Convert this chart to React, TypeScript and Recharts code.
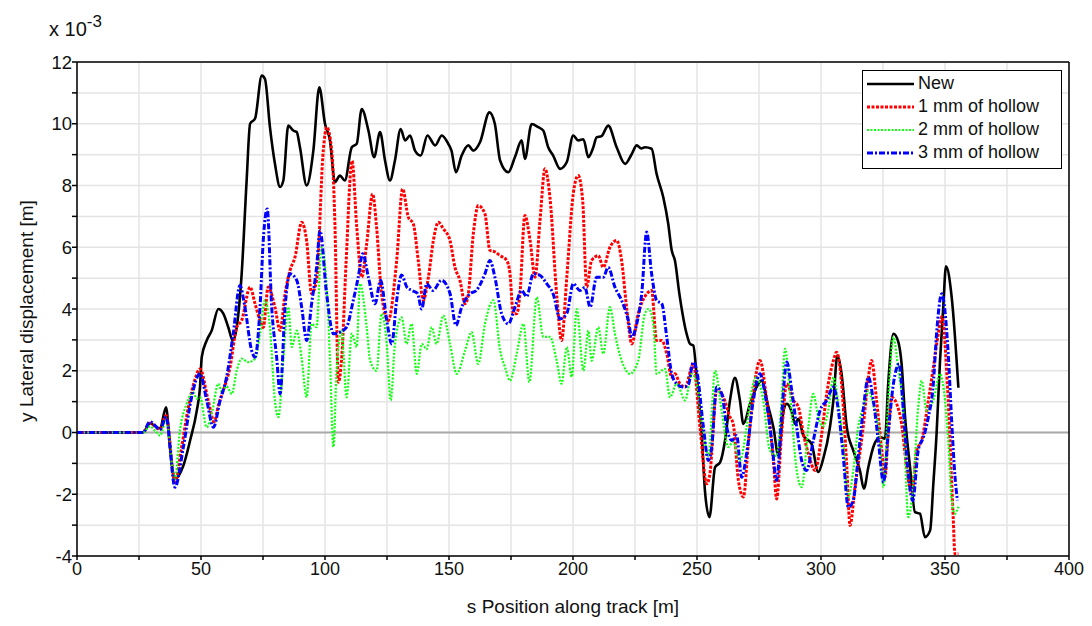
import {
  LineChart,
  Line,
  XAxis,
  YAxis,
  CartesianGrid,
  ReferenceLine,
  Legend,
} from 'recharts';

// [s position (m), lateral displacement (x 10^-3 m)]
const newPts: [number, number][] = [
  [0, 0], [26.6, 0], [29.4, 0.29], [33.5, 0.13], [35.9, 0.82], [37.5, -0.5], [39.5, -1.5],
  [42.9, -1.07], [45.6, -0.26], [48.3, 0.71], [49.6, 1.47], [50.3, 2.44], [52.3, 2.98],
  [54.3, 3.3], [57, 4.0], [59, 3.85], [61, 3.41], [62.8, 2.98], [64.4, 3.41], [66.4, 5.14],
  [68.4, 8.16], [69.8, 10.0], [71.8, 10.17], [74.5, 11.56], [75.8, 11.45], [77.8, 9.89],
  [79.8, 8.71], [81.9, 7.95], [83.2, 8.16], [85.2, 9.94], [87.2, 9.78], [88.6, 9.73],
  [89.9, 9.24], [92.6, 8.0], [95.3, 9.13], [97.7, 11.18], [100, 10.0], [102, 9.46],
  [104, 8.11], [106, 8.32], [108, 8.16], [110.8, 9.24], [112.8, 9.35], [114.8, 10.48],
  [117.5, 9.78], [119.8, 8.92], [122.2, 9.73], [124.2, 8.81], [126.2, 8.16], [128.2, 8.81],
  [130.5, 9.83], [132.3, 9.46], [134.3, 9.62], [136.3, 9.13], [138.6, 8.97], [141.3, 9.62],
  [144.4, 9.3], [147.1, 9.62], [149.7, 9.35], [151, 9.13], [152.8, 8.43], [155.1, 8.97],
  [157.8, 9.3], [159.8, 9.13], [162.5, 9.4], [166.3, 10.37], [168.5, 9.99], [170.6, 8.81],
  [173.9, 8.43], [176.6, 8.92], [179.3, 9.46], [180.6, 8.86], [183.3, 9.99], [186, 9.89],
  [188, 9.78], [190, 9.24], [192, 8.97], [194.8, 8.54], [197.5, 8.76], [200.1, 9.62],
  [202.1, 9.46], [204.2, 9.5], [206.2, 8.92], [208.2, 9.24], [209.5, 9.56], [211.5, 9.6],
  [214.2, 9.94], [217.6, 9.24], [221, 8.7], [223.7, 9.02], [225.7, 9.3], [227.5, 9.2],
  [229, 9.24], [231.7, 9.19], [233.7, 8.38], [236.4, 7.62], [238.4, 6.76], [239.8, 5.9],
  [241.1, 5.57], [242.9, 4.49], [245.8, 3.2], [247.2, 2.87], [248.5, 2.82], [249.9, 1.79],
  [251.9, -0.04], [253.2, -1.88], [255, -2.74], [257.3, -1.12], [259.3, -0.97], [261.3, -0.26],
  [263.3, 1.04], [265.3, 1.77], [267.3, 1.04], [268.7, 0.28], [271.4, 0.93], [274, 1.47],
  [276, 1.68], [278.8, 0.82], [280.8, 0.17], [282.8, -0.74], [284.8, 0.66], [286.2, 0.93],
  [288.2, 0.66], [289.5, 0.28], [290.9, 0.44], [292.9, -0.1], [296.2, -0.37], [298.9, -1.28],
  [300.9, -0.85], [303.6, 0.17], [305, 1.04], [306.6, 2.49], [308.3, 1.9], [310.4, 0.17],
  [313, -0.58], [315.7, -1.23], [317.3, -1.82], [319.1, -1.12], [321.1, -0.47], [323.8, -0.15],
  [325.8, -0.2], [327.1, 1.58], [329.2, 3.2], [331.2, 2.93], [332.5, 2.22], [333.9, 0.5],
  [335.9, -1.12], [337.9, -2.58], [339.9, -2.63], [341.9, -3.39], [344, -3.17], [345.3, -1.66],
  [346.6, -0.04], [348, 2.33], [349.3, 4.06], [350.4, 5.38], [352.7, 4.38], [355.4, 1.45],
];

const hollow1Pts: [number, number][] = [
  [0, 0], [26.6, 0], [29.4, 0.3], [33.5, 0.1], [35.9, 0.55], [39.5, -1.6], [42.2, -0.47],
  [44.9, 0.82], [47.5, 1.7], [49.6, 2.06], [52.9, 1.04], [55.3, 0.35], [57, 0.87], [59, 1.36],
  [61.7, 2.11], [64.4, 3.41], [66.4, 3.63], [69.8, 4.71], [71.8, 4.17], [73.8, 3.63],
  [75.1, 3.4], [77.1, 4.71], [79.8, 4.06], [81.9, 3.3], [83.9, 4.5], [85.9, 5.25], [87.9, 5.68],
  [90.6, 6.81], [92.6, 6.2], [94.6, 4.5], [96.6, 4.93], [99.3, 9.13], [100.7, 9.89],
  [102.7, 9.13], [104, 6.76], [105.4, 1.63], [106.8, 2.5], [108.5, 5.5], [110.9, 8.8],
  [112.8, 6.65], [114.8, 5.03], [116.8, 6.11], [119.2, 7.73], [120.8, 6.65], [122.8, 4.49],
  [125.5, 3.63], [128.9, 5.57], [131.3, 7.89], [133.6, 6.97], [135.6, 6.76], [137.6, 5.57],
  [139.6, 4.28], [141.7, 5.03], [143.7, 6.22], [145.7, 6.81], [147.7, 6.6], [150.4, 6.22],
  [152.4, 5.35], [154.4, 4.93], [156.5, 4.17], [157.8, 4.49], [159.8, 6.43], [161.8, 7.35],
  [164.5, 7.08], [166.5, 5.9], [168.5, 5.85], [170.6, 5.73], [173.3, 5.57], [174.6, 5.14],
  [175.9, 3.85], [177.3, 3.85], [178.6, 4.49], [180.6, 7.03], [182.7, 6.22], [184.7, 5.03],
  [186.7, 6.87], [188.7, 8.54], [190.7, 7.62], [193.4, 4.49], [195.4, 2.98], [197.5, 5.03],
  [200.1, 7.73], [202.1, 8.32], [203.9, 7.51], [205.5, 4.71], [207.5, 5.57], [210.2, 5.73],
  [212.2, 5.35], [214.9, 6.0], [217.6, 6.22], [219.6, 5.57], [221.6, 4.06], [223.7, 2.87],
  [226.3, 3.85], [229.7, 4.49], [231.7, 4.6], [233.7, 2.98], [235.8, 2.98], [237.8, 2.55],
  [239.8, 1.79], [241.1, 1.9], [243.1, 1.58], [245.2, 1.47], [248.5, 2.22], [251.2, 0.17],
  [253.9, -1.66], [255.2, -1.34], [257.9, 1.36], [260.6, 1.15], [263.3, 0.5], [264.6, 0.28],
  [266.7, -1.55], [268.7, -2.09], [270.7, -0.37], [272.7, 1.25], [275.4, 2.33], [278.1, 1.04],
  [280.8, -0.91], [282.1, -2.15], [284.1, -0.04], [286.2, 1.58], [288.9, 1.04], [290.9, 0.82],
  [292.9, -0.04], [294.9, -0.69], [297.6, -1.23], [300.3, -0.04], [302.3, 1.25], [305, 2.33],
  [306.3, 2.6], [308.3, 1.58], [310.4, -1.12], [311.7, -3.01], [313.7, -1.77], [317, 0.17],
  [319.1, 1.79], [320.4, 2.33], [322.4, 1.04], [324.5, -0.58], [325.8, -1.45], [327.1, -0.04],
  [328.5, 1.14], [330.5, 0.93], [332.5, 0.28], [334.5, -1.12], [336.6, -1.99], [338.6, -0.58],
  [340.6, -0.26], [343.3, 1.04], [345.3, 2.11], [347.3, 3.2], [348.7, 3.75], [351.3, 1.04],
  [353.3, -2.74], [354, -3.93], [355.4, -3.93],
];

const hollow2Pts: [number, number][] = [
  [0, 0], [26.6, 0], [29.4, 0.2], [31.5, 0.05], [33.5, -0.1], [35.9, 0.4], [39.5, -1.5],
  [41.5, 0.06], [44.2, 0.93], [46.9, 1.3], [48.3, 1.1], [49.6, 1.14], [52.3, 0.17], [54.3, 0.6],
  [57, 1.58], [58.5, 1.3], [60.3, 1.5], [62.4, 1.25], [64.4, 2.0], [66.4, 2.39], [69.1, 2.28],
  [71.8, 2.39], [73.8, 3.2], [75.8, 4.28], [77.8, 3.41], [79.8, 1.04], [81.2, 0.5], [83.2, 2.39],
  [85.2, 4.06], [86.6, 2.77], [88.6, 3.3], [90.6, 2.39], [92.6, 1.14], [94.6, 3.52], [96.6, 3.41],
  [98.6, 6.0], [100.7, 4.71], [102, 2.39], [103.4, -0.47], [104.7, 2.06], [106.7, 3.3],
  [108.7, 1.14], [110.8, 3.2], [112.8, 2.77], [114.1, 4.82], [116.8, 3.41], [118.2, 2.33],
  [120.8, 2.0], [122.8, 3.85], [124.9, 2.87], [126.5, 1.04], [128.2, 2.87], [130.9, 3.73],
  [132.9, 2.87], [134.9, 3.52], [137, 1.9], [139, 2.87], [141, 2.7], [143, 3.41], [145, 2.87],
  [147.7, 3.79], [150.4, 2.87], [153.1, 1.9], [156.5, 2.66], [159.1, 3.25], [161.8, 2.22],
  [164.5, 3.52], [167.9, 4.28], [170.6, 2.66], [172.6, 2.11], [174.6, 1.68], [177.3, 2.55],
  [180, 3.52], [182.4, 1.63], [185.4, 4.38], [188, 3.1], [190.7, 3.1], [193.4, 2.33],
  [195.4, 1.58], [197.5, 2.77], [199.5, 1.8], [201.5, 4.0], [204.2, 2.0], [206.2, 3.3],
  [207.5, 2.33], [210.2, 3.41], [212.2, 2.55], [214.9, 4.06], [216.9, 3.2], [219.6, 2.33],
  [223, 1.9], [226.3, 2.33], [229, 3.85], [230.5, 4.0], [232.4, 3.52], [233.7, 1.9],
  [237.1, 2.06], [239.1, 1.14], [241.8, 1.58], [245.2, 1.04], [247.9, 1.9], [249.9, 1.58],
  [252.6, -0.04], [254.6, -0.76], [257.3, 2.0], [260, 0.66], [262.6, -0.47], [264.5, -0.3],
  [267.3, -0.91], [270, 0.17], [272, 1.36], [274, 1.79], [276.7, 1.04], [279.4, -0.58],
  [282.1, -0.76], [284.1, 1.04], [285.5, 2.71], [287.5, 1.25], [290.2, -1.23], [292.2, -1.77],
  [294.9, 0.17], [296.9, 1.25], [298.9, 0.5], [300.9, 0.2], [302.9, 0.71], [305, 1.79],
  [307, 0.93], [309, -0.37], [311, -2.09], [313, -1.23], [315, 0.17], [317, 0.82], [319.1, 1.36],
  [321.1, 0.9], [323.8, -0.26], [325.2, -1.77], [327.1, 1.04], [329.2, 3.09], [331.2, 2.0],
  [333.2, 0.71], [335.2, -2.74], [337.2, -1.66], [339.2, 0.82], [340.6, 1.68], [342.6, 0.71],
  [345.3, 1.04], [348, 1.9], [350, 1.04], [351.3, -0.26], [352.7, -2.2], [354, -2.63],
  [355.4, -2.4],
];

const hollow3Pts: [number, number][] = [
  [0, 0], [26.6, 0], [29.4, 0.35], [33.5, 0.1], [35.9, 0.5], [39.5, -1.77], [42.9, -0.47],
  [46.2, 1.14], [49.6, 1.9], [52.3, 1.04], [55, 0.17], [57.7, 1.04], [60.3, 1.79], [63, 3.2],
  [65.7, 4.76], [67.7, 4.06], [70.4, 2.66], [71.8, 2.44], [73.8, 4.06], [75.1, 6.22],
  [76.7, 7.24], [78.5, 4.06], [80.5, 2.44], [81.9, 1.25], [83.9, 4.06], [85.9, 5.14],
  [88.6, 4.93], [90.6, 4.06], [92.6, 2.98], [94.6, 4.17], [96.6, 5.35], [98, 6.54],
  [100.5, 4.6], [103.4, 3.2], [106, 3.25], [108.7, 3.41], [111.4, 4.28], [113.4, 5.03],
  [115.2, 5.79], [117.5, 5.03], [120.2, 4.17], [122.4, 4.93], [124.9, 3.63], [126.9, 2.87],
  [128.9, 4.28], [130.9, 5.1], [133, 4.71], [135, 4.6], [137.3, 4.5], [139, 4.0], [141, 4.82],
  [143.5, 4.6], [147, 4.93], [150.4, 4.5], [152.8, 3.47], [155.1, 4.06], [158.4, 4.49],
  [161, 4.6], [164.5, 5.14], [166.5, 5.57], [168.5, 5.03], [171.2, 3.85], [173.9, 3.52],
  [176.6, 4.06], [179.3, 4.6], [181.3, 4.4], [184, 5.14], [186.5, 5.1], [189.4, 4.82],
  [192, 4.49], [194.8, 3.68], [197.5, 3.85], [200.1, 4.82], [202.8, 4.6], [204.8, 4.7],
  [206.9, 4.06], [209.5, 5.03], [212.2, 5.03], [214.2, 5.35], [216.9, 4.71], [219.6, 4.28],
  [222.3, 3.63], [223.7, 3.09], [225.7, 3.52], [227.7, 4.49], [229.7, 6.49], [231.7, 5.14],
  [233.7, 4.28], [235.8, 4.17], [237.8, 3.09], [239.8, 1.9], [241.8, 1.58], [244.5, 1.47],
  [246.5, 1.55], [248.5, 2.28], [249.9, 2.0], [252.6, 0.17], [254.6, -0.91], [255.9, -0.5],
  [257.9, 1.47], [260, 1.25], [262, 0.17], [264, -0.26], [266, -0.1], [268, -1.45], [270, -0.69],
  [272.7, 1.04], [275.4, 1.9], [277.4, 1.25], [280.1, -0.26], [282.1, -1.55], [284.1, 0.5],
  [286.2, 2.28], [288.2, 1.36], [290.2, 0.17], [292.2, -0.91], [294.2, -1.23], [296.9, -0.26],
  [299.6, 0.71], [302.3, 1.04], [305, 1.47], [307, 0.71], [309, -0.8], [311, -2.42], [313, -2.2],
  [315, -0.8], [317, 0.71], [319.1, 1.79], [321.1, 1.04], [323.1, -0.26], [325.2, -1.61],
  [327.1, -0.04], [329.2, 1.58], [331.5, 2.22], [333.2, 0.71], [335.2, -1.34], [337, -2.2],
  [339.2, -0.58], [341.3, -0.15], [343.3, 0.5], [345.3, 1.58], [346.6, 3.2], [348.7, 4.49],
  [351.3, 2.55], [352.8, 0.2], [354, -1.4], [355, -2.2],
];

const xTicks = [0, 25, 50, 75, 100, 125, 150, 175, 200, 225, 250, 275, 300, 325, 350, 375, 400];
const yTicks = [-4, -3, -2, -1, 0, 1, 2, 3, 4, 5, 6, 7, 8, 9, 10, 11, 12];

const seriesNames = ['New', '1 mm of hollow', '2 mm of hollow', '3 mm of hollow'];
const seriesColors = ['#000000', '#ff0000', '#11ff11', '#0000ff'];
const seriesDash = ['', '3 1.5', '2 1.5', '6 2 2 2'];
const seriesWidth = [2.6, 3, 2.2, 3];

const toRows = (pts: [number, number][]) => pts.map(([s, y]) => ({ s, y }));
const seriesData = [newPts, hollow1Pts, hollow2Pts, hollow3Pts].map(toRows);

const font = '"Liberation Sans", Arial, sans-serif';

function LegendBox() {
  return (
    <div
      style={{
        width: 200,
        height: 99,
        border: '1px solid #000',
        background: '#fff',
        fontFamily: font,
        fontSize: 18,
        color: '#111',
        boxSizing: 'border-box',
        paddingTop: 1,
      }}
    >
      {seriesNames.map((name, i) => (
        <div key={name} style={{ display: 'flex', alignItems: 'center', height: 23 }}>
          <svg width={52} height={10} style={{ marginLeft: 3 }}>
            <line
              x1={1}
              y1={5}
              x2={48}
              y2={5}
              stroke={seriesColors[i]}
              strokeWidth={seriesWidth[i]}
              strokeDasharray={seriesDash[i]}
            />
          </svg>
          <span>{name}</span>
        </div>
      ))}
    </div>
  );
}

export default function App() {
  return (
    <div style={{ position: 'absolute', left: 0, top: 0, width: 1092, height: 626, background: '#fff' }}>
      <LineChart width={1092} height={626} margin={{ top: 62, right: 23, bottom: 30, left: 37 }}>
        <CartesianGrid stroke="#e4e4e4" strokeWidth={1.5} />
        <XAxis
          dataKey="s"
          type="number"
          domain={[0, 400]}
          ticks={xTicks}
          allowDataOverflow
          height={40}
          stroke="#000"
          strokeWidth={1.5}
          tickSize={4}
          tickFormatter={(v: number) => (v % 50 === 0 ? String(v) : '')}
          tick={{ fontSize: 18, fill: '#111', fontFamily: font }}
        />
        <YAxis
          type="number"
          domain={[-4, 12]}
          ticks={yTicks}
          allowDataOverflow
          width={40}
          stroke="#000"
          strokeWidth={1.5}
          tickSize={5}
          tickMargin={0}
          tickFormatter={(v: number) => (v % 2 === 0 ? String(v) : '')}
          tick={{ fontSize: 18.5, fill: '#111', fontFamily: font }}
        />
        <ReferenceLine y={0} stroke="#aaaaaa" strokeWidth={2} />
        <ReferenceLine y={12} stroke="#000" strokeWidth={1.5} />
        <ReferenceLine x={400} stroke="#000" strokeWidth={1.5} />
        {seriesData.map((rows, i) => (
          <Line
            key={seriesNames[i]}
            data={rows}
            dataKey="y"
            name={seriesNames[i]}
            type="monotone"
            stroke={seriesColors[i]}
            strokeWidth={seriesWidth[i]}
            strokeDasharray={seriesDash[i] || undefined}
            dot={false}
            isAnimationActive={false}
          />
        ))}
        <Legend
          layout="horizontal"
          verticalAlign="middle"
          align="center"
          content={() => <LegendBox />}
          wrapperStyle={{ position: 'absolute', left: 862, top: 70, width: 200, height: 99 }}
        />
      </LineChart>
      <div
        style={{
          position: 'absolute',
          left: 49,
          top: 19,
          fontFamily: font,
          fontSize: 20,
          lineHeight: '20px',
          color: '#111',
          whiteSpace: 'nowrap',
        }}
      >
        x 10<span style={{ fontSize: 17, position: 'relative', top: -9 }}>-3</span>
      </div>
      <div
        style={{
          position: 'absolute',
          left: 27,
          top: 311,
          transform: 'translate(-50%, -50%) rotate(-90deg)',
          fontFamily: font,
          fontSize: 19,
          color: '#111',
          whiteSpace: 'nowrap',
        }}
      >
        y Lateral displacement [m]
      </div>
      <div
        style={{
          position: 'absolute',
          left: 573,
          top: 607,
          transform: 'translate(-50%, -50%)',
          fontFamily: font,
          fontSize: 19,
          color: '#111',
          whiteSpace: 'nowrap',
        }}
      >
        s Position along track [m]
      </div>
    </div>
  );
}
